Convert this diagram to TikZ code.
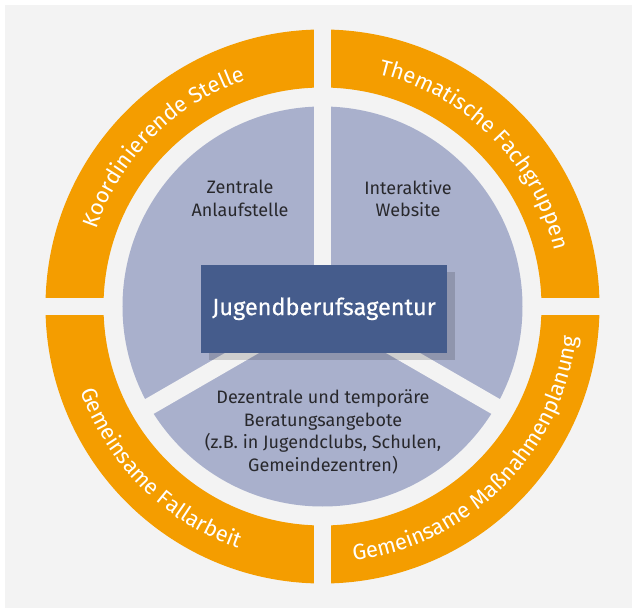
\documentclass[tikz,border=0pt]{standalone}
\usepackage{fontspec}
\setmainfont{Fira Sans}
\newfontfamily\corefont[FakeBold=0.6]{Fira Sans}
\usetikzlibrary{decorations.text,shadows}

\definecolor{bggrey}{RGB}{243,243,243}
\definecolor{ringorange}{RGB}{244,157,0}
\definecolor{sectorblue}{RGB}{169,176,204}
\definecolor{coreblue}{RGB}{69,92,140}
\definecolor{inktext}{RGB}{40,40,44}

\newcommand\ringfont{\fontsize{22}{22}\selectfont}

\begin{document}
\begin{tikzpicture}[x=1pt,y=1pt,
  gapline/.style={line width=17pt, draw=bggrey},
  sectortext/.style={text=inktext, font=\fontsize{18}{22.5}\selectfont, align=center, inner sep=0pt},
  ringlabel/.style={decorate, decoration={text along path, text align=center,
      text color=white, text={|\ringfont|#1}}},
  corebox/.style={fill=coreblue, text=white, minimum width=246.6pt, minimum height=87.7pt,
      inner sep=0pt, font=\corefont\fontsize{23.5}{24}\selectfont,
      drop shadow={shadow xshift=8pt, shadow yshift=-7pt, opacity=0.15, fill=black}}
]
% page and grey panel
\useasboundingbox (-322.5,-301.5) rectangle (309.5,306.5);
\fill[white] (-322.5,-301.5) rectangle (309.5,306.5);
\fill[bggrey] (-317.5,-301.5) rectangle (309.5,301.5);

% outer orange ring, cut into four quadrants by straight gaps
\fill[ringorange, even odd rule] (0,0) circle (277pt) (0,0) circle (219pt);
\fill[bggrey] (-8.5,-290) rectangle (8.5,290);
\fill[bggrey] (-290,-8.5) rectangle (290,8.5);

% inner disc in three sectors
\fill[sectorblue] (0,0) circle (200pt);
\coordinate (hub) at (0,0);
\coordinate (rimtop) at (90:212);
\coordinate (rimleft) at (210:212);
\coordinate (rimright) at (330:212);
\draw[gapline] (hub) -- (rimtop);
\draw[gapline] (hub) -- (rimleft);
\draw[gapline] (hub) -- (rimright);

% sector captions
\node[sectortext] (zentrale) at (-82.5,108) {Zentrale\\Anlaufstelle};
\node[sectortext] (website) at (85.5,108) {Interaktive\\Website};
\node[sectortext] (dezentral) at (0.5,-125.5)
  {Dezentrale und temporäre\\Beratungsangebote\\(z.B. in Jugendclubs, Schulen,\\Gemeindezentren)};

% central box
\node[corebox] (agentur) at (1.5,-2.3) {Jugendberufsagentur};

% ring captions
\path[ringlabel={Koordinierende Stelle}] (180:239) arc[start angle=180, end angle=90, radius=239];
\path[ringlabel={Thematische Fachgruppen}] (90:239) arc[start angle=90, end angle=0, radius=239];
\path[ringlabel={Gemeinsame Fallarbeit}] (180:256) arc[start angle=180, end angle=270, radius=256];
\path[ringlabel={Gemeinsame Maßnahmenplanung}] (270:256) arc[start angle=270, end angle=360, radius=256];
\end{tikzpicture}
\end{document}
